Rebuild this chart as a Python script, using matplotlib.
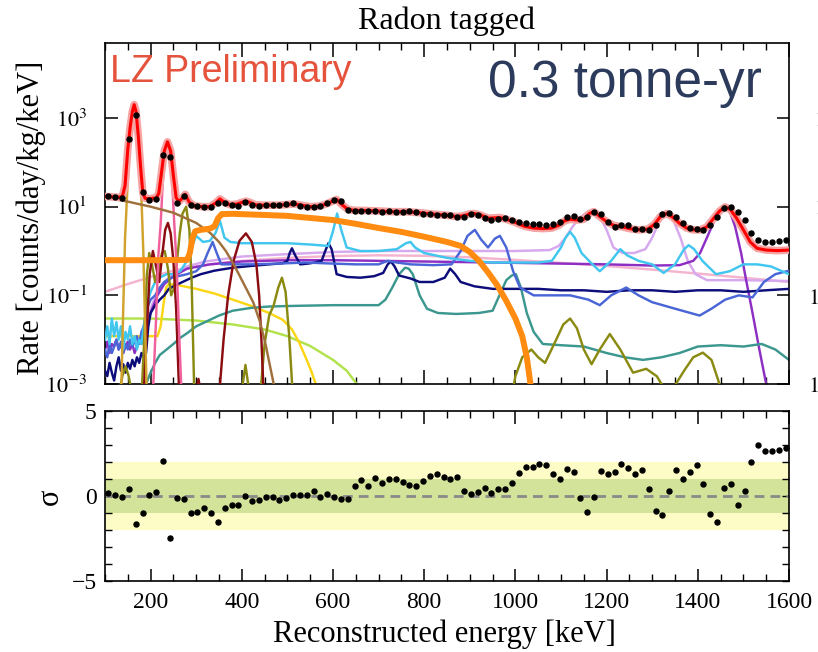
import numpy as np
import matplotlib
matplotlib.use('Agg')
import matplotlib.pyplot as plt
from matplotlib.ticker import FixedLocator, MultipleLocator, NullLocator, FixedFormatter

plt.rcParams['font.family'] = ['Liberation Serif', 'DejaVu Serif']
plt.rcParams['mathtext.fontset'] = 'stix'

# ---------------- data ----------------
bin_start = 107.5
bin_width = 15.0
n_bins = 100

data_rate = [17, 16.5, 16, 330, 1200, 21, 14.5, 15, 145, 130,
             12, 17, 10.8, 10.3, 9.9, 9.7, 12.2, 11.8, 10.8, 10.6,
             12.6, 11, 10.4, 10.8, 10.8, 10.8, 11.4, 11.8, 10.6, 9.9,
             9.9, 10.6, 12.2, 14.5, 13.5, 8.6, 8.1, 8.1, 8.1, 7.9,
             7.7, 7.8, 7.4, 7.6, 7.9, 7.7, 7.0, 6.8, 6.6, 6.6,
             6.5, 5.7, 5.9, 7.0, 6.6, 5.6, 5.0, 5.4, 5.6, 5.0,
             4.6, 4.2, 4.0, 4.0, 3.9, 4.0, 4.4, 6.0, 6.1, 5.2,
             6.0, 7.7, 6.8, 4.6, 3.4, 3.8, 3.8, 3.1, 3.1, 3.0,
             3.8, 6.8, 7.2, 5.9, 4.2, 3.3, 3.1, 3.0, 3.8, 5.9,
             9.5, 9.9, 7.7, 5.0, 2.5, 1.8, 1.6, 1.6, 1.7, 1.8]

residual_sigma = [0.15, 0.06, -0.04, 0.43, -1.63, -1.0, 0.06, 0.25, 2.04, -2.47,
                  -0.1, -0.18, -1.03, -0.92, -0.72, -1.01, -1.52, -0.72, -0.53, -0.53,
                  0.0, -0.33, -0.27, -0.04, -0.08, -0.23, -0.14, 0.04, 0.06, 0.04,
                  0.31, -0.04, 0.1, -0.04, -0.19, -0.19, 0.55, 0.94, 0.6, 1.03,
                  0.74, 0.97, 0.97, 0.84, 0.64, 0.6, 0.9, 1.17, 1.29, 1.09,
                  0.99, 1.13, 0.31, 0.1, 0.25, 0.45, 0.19, 0.39, 0.43, 0.78,
                  1.36, 1.68, 1.68, 1.85, 1.83, 1.27, 0.97, 1.56, 1.42, -0.1,
                  -0.97, -0.08, 1.46, 1.29, 1.42, 1.87, 1.66, 1.27, 1.52, 0.43,
                  -0.9, -1.11, 0.29, 1.52, 0.97, 1.42, 1.81, 0.68, -1.07, -1.52,
                  0.49, 0.68, -0.53, 0.31, 2.0, 2.98, 2.63, 2.63, 2.69, 2.83]

model_E = [100, 110, 120, 130, 138, 144, 150, 155, 160, 164, 168, 173, 178, 183, 188,
           195, 205, 212, 218, 224, 230, 237, 244, 250, 256, 262, 268, 276, 284, 292,
           300, 315, 330, 342, 352, 362, 375, 390, 400, 409, 418, 430, 450, 480, 500,
           515, 530, 550, 570, 585, 597, 608, 620, 632, 645, 670, 700, 730, 760, 790,
           820, 850, 870, 885, 900, 910, 925, 940, 955, 965, 980, 1000, 1020, 1040, 1060,
           1080, 1095, 1108, 1120, 1135, 1150, 1162, 1172, 1185, 1200, 1215, 1235, 1250, 1270, 1290,
           1305, 1318, 1332, 1345, 1360, 1375, 1390, 1405, 1420, 1435, 1448, 1460, 1472, 1485, 1500,
           1515, 1530, 1550, 1575, 1600]
model_V = [17, 16.8, 16.5, 16.3, 17, 30, 200, 600, 1400, 2000, 1400, 400, 80, 20, 15.5,
           15, 15.5, 15.5, 20, 60, 180, 290, 180, 50, 16, 13, 15, 19, 13, 11,
           10.3, 10, 10, 12, 15, 12.5, 11, 11.5, 12.5, 13.3, 12.5, 11, 10.8, 10.8, 11.2,
           11.5, 10.8, 10, 10.3, 11.5, 13, 14.5, 11, 8.8, 8.3, 8.2, 8, 7.7, 7.7, 7.3,
           6.8, 6.4, 6.0, 6.2, 6.9, 7.0, 6.4, 5.5, 5.6, 5.7, 5.2, 4.4, 3.6, 3.3, 3.2,
           3.3, 3.8, 4.8, 5.2, 5.0, 5.2, 7.0, 7.7, 6.0, 4.6, 3.8, 3.5, 3.2, 3.0, 3.1,
           4.0, 6.0, 7.0, 5.8, 4.2, 3.3, 3.0, 3.0, 3.5, 5.5, 8.0, 9.9, 8.5, 5.5, 3.0,
           1.6, 1.15, 1.05, 1.02, 1.05]

brown_E = [100, 150, 200, 250, 300, 330, 350, 365, 380, 395, 410, 425, 440, 452, 462, 470]
brown_V = [16, 13, 10, 7.3, 4.3, 2.6, 1.6, 1.0, 0.55, 0.28, 0.14, 0.07, 0.025, 0.008, 0.0025, 0.001]

orange_E = [100, 200, 280, 286, 292, 298, 310, 330, 340, 348,
            356, 380, 450, 500, 600, 650, 700, 750, 800, 850,
            880, 900, 920, 940, 960, 980, 1000, 1015, 1025, 1033]
orange_V = [0.62, 0.62, 0.63, 0.9, 2.0, 2.8, 3.0, 3.2, 3.6, 5.5,
            6.8, 6.9, 6.5, 6.2, 5.0, 4.1, 3.3, 2.7, 2.1, 1.6,
            1.3, 0.95, 0.6, 0.33, 0.17, 0.075, 0.03, 0.012, 0.004, 0.001]

goldenrod_E = [136, 140, 144, 148, 152, 156, 160, 164, 168, 172, 176, 180, 184, 188, 191]
goldenrod_V = [0.001, 0.05, 2, 15, 100, 500, 1300, 1900, 1300, 500, 100, 15, 1, 0.02, 0.001]

hotpink_E = [206, 212, 217, 222, 227, 232, 237, 242, 247, 252, 257, 262, 267]
hotpink_V = [0.001, 0.03, 0.8, 4, 40, 180, 280, 180, 40, 4, 0.5, 0.02, 0.001]

maroon_E = [186, 192, 198, 205, 212, 219, 226, 232, 238, 244, 250, 256, 263,
            298, 305, 312, 350, 360, 370, 382, 395, 409, 422, 432, 438, 443, 447]
maroon_V = [0.001, 0.02, 0.3, 1.0, 0.45, 0.2, 0.9, 3.0, 4.3, 2.5, 0.6, 0.05, 0.0005,
            0.0005, 0.0013, 0.0005, 0.0005, 0.01, 0.1, 0.6, 1.7, 2.5, 1.6, 0.5, 0.1, 0.01, 0.001]

olive_E = [130, 138, 145, 152, 160, 180, 186, 192, 197, 203,
           210, 218, 225, 231, 238, 245, 252, 258, 264, 270,
           278, 285, 290, 296, 398, 408, 418, 440, 450, 460,
           470, 480, 488, 496, 504, 512, 992, 1000, 1015, 1035,
           1050, 1065, 1085, 1105, 1120, 1135, 1150, 1167, 1185, 1207,
           1230, 1258, 1287, 1310, 1338, 1346, 1370, 1390, 1411, 1430,
           1445, 1455]
olive_V = [0.0005, 0.0015, 0.0025, 0.0015, 0.0005, 0.0005, 0.01, 0.3, 0.9, 0.5,
           0.2, 0.4, 0.9, 1.0, 0.4, 0.1, 0.15, 0.6, 2.5, 7,
           10, 3, 0.2, 0.0005, 0.0005, 0.0027, 0.0005, 0.0005, 0.008, 0.035,
           0.06, 0.15, 0.25, 0.12, 0.012, 0.0005, 0.0005, 0.0015, 0.004, 0.006,
           0.004, 0.003, 0.008, 0.022, 0.03, 0.018, 0.006, 0.0028, 0.006, 0.0134,
           0.006, 0.0018, 0.0022, 0.0015, 0.0005, 0.0008, 0.002, 0.004, 0.0051, 0.0035,
           0.0012, 0.0005]

cyan_E = [100, 105, 110, 115, 120, 125, 130, 135, 140, 145, 150, 155, 160, 165, 170, 175, 180, 185, 190, 195, 200,
          210, 220, 235, 250, 265, 280, 290, 300, 315, 330, 342, 352, 362, 375,
          400, 450, 500, 550, 590, 600, 609, 618, 630, 660,
          700, 740, 760, 770, 780, 800, 850, 900, 950, 1000,
          1050, 1080, 1100, 1110, 1120, 1130, 1145, 1165, 1185, 1210,
          1230, 1245, 1270, 1300, 1325, 1350, 1370, 1380, 1392, 1410,
          1440, 1470, 1500, 1530, 1560, 1600]
cyan_V = [0.01, 0.02, 0.008, 0.03, 0.012, 0.025, 0.01, 0.02, 0.006, 0.015, 0.01, 0.02, 0.008, 0.012, 0.006, 0.01, 0.008, 0.02, 0.04, 0.08, 0.12,
          0.2, 0.25, 0.3, 0.3, 0.35, 0.6, 1.2, 2.2, 1.6, 1.7, 2.5, 4.8, 2.0, 1.6,
          1.5, 1.5, 1.5, 1.4, 1.3, 2.8, 7.0, 3.0, 1.2, 1.0,
          1.0, 1.1, 1.5, 1.6, 1.2, 0.9, 0.7, 0.6, 0.55, 0.55,
          0.55, 0.6, 1.2, 2.0, 2.7, 2.0, 0.9, 0.55, 0.35, 0.6,
          1.1, 0.8, 0.6, 0.5, 0.32, 0.5, 1.1, 1.35, 1.1, 0.6,
          0.3, 0.35, 0.5, 0.5, 0.45, 0.3]

royal_E = [100, 105, 110, 115, 120, 125, 130, 135, 140, 145, 150, 155, 160, 165, 170, 175, 180, 185, 190, 195, 200,
           210, 220, 230, 245, 260, 280, 300, 315, 325, 336, 345, 355,
           380, 420, 480, 540, 600, 650, 700, 720, 740, 770, 820, 860,
           880, 895, 911, 925, 940, 955, 966, 980, 995, 1010,
           1040, 1080, 1120, 1160, 1185, 1210, 1243, 1270, 1300, 1350,
           1404, 1430, 1460, 1490, 1520, 1545, 1570, 1600]
royal_V = [0.006, 0.004, 0.008, 0.005, 0.007, 0.01, 0.006, 0.009, 0.005, 0.008, 0.006, 0.01, 0.007, 0.009, 0.012, 0.008, 0.015, 0.02, 0.04, 0.06, 0.08,
           0.1, 0.15, 0.2, 0.25, 0.27, 0.3, 0.35, 0.5, 0.9, 1.6, 0.9, 0.5,
           0.5, 0.5, 0.52, 0.55, 0.52, 0.5, 0.5, 0.6, 0.55, 0.5, 0.48, 0.5,
           1.0, 2.2, 3.0, 1.8, 1.2, 1.9, 2.2, 1.2, 0.35, 0.15,
           0.1, 0.1, 0.1, 0.08, 0.06, 0.1, 0.15, 0.1, 0.07, 0.05,
           0.035, 0.05, 0.08, 0.1, 0.09, 0.2, 0.3, 0.36]

navy_E = [100, 105, 110, 115, 120, 125, 130, 135, 140, 145, 150, 155, 160, 165, 170, 175, 180, 185, 190, 195, 200,
          210, 220, 230, 240, 255, 270, 290, 310, 340, 380, 420, 460, 490,
          500, 505, 510, 517, 528, 545, 560, 575, 583, 590, 597, 608,
          630, 660, 690, 710, 720, 727, 735, 745, 770, 790, 820, 845, 857, 868, 880,
          910, 950, 1000, 1050, 1100, 1150, 1200, 1250, 1300, 1350, 1400, 1450, 1500, 1550, 1600]
navy_V = [0.002, 0.0015, 0.003, 0.0018, 0.0012, 0.0025, 0.004, 0.002, 0.0028, 0.0018, 0.003, 0.0022, 0.0035, 0.0025, 0.004, 0.003, 0.005, 0.004, 0.005, 0.02, 0.04,
          0.06, 0.08, 0.1, 0.14, 0.17, 0.2, 0.25, 0.3, 0.36, 0.42, 0.46, 0.5, 0.53,
          0.6, 0.9, 1.15, 0.8, 0.5, 0.52, 0.55, 0.6, 1.0, 1.5, 1.1, 0.3,
          0.26, 0.25, 0.27, 0.32, 0.5, 0.58, 0.45, 0.28, 0.24, 0.2, 0.2, 0.25, 0.4, 0.3, 0.2,
          0.16, 0.14, 0.14, 0.14, 0.13, 0.13, 0.12, 0.13, 0.13, 0.12, 0.13, 0.13, 0.12, 0.13, 0.14]

purple_E = [100, 105, 110, 115, 120, 125, 130, 135, 140, 145, 150, 155, 160, 165, 170, 175, 180, 185, 190,
            200, 215, 230, 250, 280, 330, 400, 500, 600, 700,
            800, 900, 1000, 1100, 1200, 1300, 1360, 1390, 1405, 1420,
            1435, 1448, 1459, 1470, 1482, 1495, 1506, 1520, 1535, 1550]
purple_V = [0.006, 0.009, 0.005, 0.008, 0.007, 0.01, 0.006, 0.008, 0.005, 0.007, 0.009, 0.006, 0.008, 0.005, 0.007, 0.01, 0.008, 0.012, 0.02,
            0.04, 0.1, 0.18, 0.27, 0.4, 0.5, 0.58, 0.62, 0.62, 0.6,
            0.58, 0.56, 0.54, 0.52, 0.5, 0.47, 0.48, 0.6, 0.9, 2.0,
            4.5, 8.0, 10.0, 8.0, 3.5, 0.9, 0.22, 0.04, 0.006, 0.001]

lavender_E = [190, 200, 215, 230, 250, 280, 320, 400, 500, 600,
              700, 800, 900, 1000, 1075, 1095, 1110, 1125, 1140, 1155,
              1170, 1185, 1200, 1215, 1235, 1260, 1285, 1300, 1315, 1332,
              1348, 1362, 1378, 1395, 1420, 1500, 1600]
lavender_V = [0.02, 0.05, 0.12, 0.2, 0.32, 0.45, 0.58, 0.75, 0.85, 0.95,
              1.0, 1.0, 1.0, 1.0, 1.05, 1.3, 2.0, 3.5, 5.5, 7.2,
              7.8, 6.0, 3.0, 1.2, 0.9, 0.9, 1.1, 2.0, 4.5, 7.0,
              4.5, 2.0, 0.6, 0.3, 0.22, 0.22, 0.21]

lightpink_E = [100, 150, 200, 250, 300, 350, 400, 500, 600, 700, 800, 900, 1000, 1100, 1200, 1300, 1400, 1500, 1600]
lightpink_V = [0.12, 0.18, 0.26, 0.36, 0.45, 0.53, 0.6, 0.7, 0.77, 0.8, 0.78, 0.72, 0.63, 0.54, 0.46, 0.38, 0.31, 0.25, 0.2]

teal_E = [190, 200, 210, 220, 235, 250, 265, 280, 300, 320,
          350, 380, 420, 460, 520, 600, 650, 700, 715, 730,
          745, 758, 766, 775, 790, 806, 830, 870, 920, 950,
          965, 980, 992, 1001, 1012, 1025, 1040, 1060, 1100, 1150,
          1200, 1240, 1280, 1320, 1360, 1400, 1450, 1500, 1540, 1570,
          1600]
teal_V = [0.001, 0.0018, 0.003, 0.0045, 0.006, 0.008, 0.011, 0.014, 0.02, 0.025,
          0.035, 0.045, 0.052, 0.056, 0.058, 0.06, 0.06, 0.06, 0.08, 0.15,
          0.3, 0.42, 0.4, 0.3, 0.1, 0.05, 0.04, 0.038, 0.04, 0.045,
          0.1, 0.22, 0.28, 0.3, 0.15, 0.04, 0.015, 0.008, 0.0075, 0.007,
          0.005, 0.004, 0.0035, 0.004, 0.005, 0.007, 0.0075, 0.007, 0.008, 0.006,
          0.0035]

yellow_E = [100, 150, 200, 215, 222, 228, 234, 240, 260, 300, 340, 380, 420, 460, 490, 510, 525, 540, 552, 562]
yellow_V = [0.012, 0.012, 0.012, 0.012, 0.02, 0.06, 0.15, 0.18, 0.17, 0.14, 0.11, 0.08, 0.058, 0.04, 0.028, 0.017, 0.009, 0.004, 0.002, 0.001]

ygreen_E = [100, 200, 300, 380, 450, 500, 550, 600, 630, 652]
ygreen_V = [0.03, 0.03, 0.027, 0.022, 0.017, 0.012, 0.0072, 0.0035, 0.002, 0.001]

# ---------------- figure ----------------
W, H = 818, 652
fig = plt.figure(figsize=(W / 100, H / 100), dpi=100)

def fx(x):
    return x / W

def fy(y):
    return 1 - y / H

ax1 = fig.add_axes([fx(105), fy(384), fx(789) - fx(105), fy(42.7) - fy(384)])
ax2 = fig.add_axes([fx(105), fy(581), fx(789) - fx(105), fy(410.7) - fy(581)])

bins = bin_start + bin_width * np.arange(n_bins)

lw = 1.75
components = [
    (lightpink_E, lightpink_V, '#f4b4cf', lw),
    (lavender_E, lavender_V, '#d6a8ee', lw),
    (purple_E, purple_V, '#8e2fc4', lw),
    (ygreen_E, ygreen_V, '#b2e24c', lw),
    (yellow_E, yellow_V, '#fad614', lw),
    (teal_E, teal_V, '#3c978f', lw),
    (navy_E, navy_V, '#0c0c7a', lw),
    (royal_E, royal_V, '#4a66d6', lw),
    (cyan_E, cyan_V, '#40c6ef', lw),
    (olive_E, olive_V, '#8a8a12', lw),
    (maroon_E, maroon_V, '#8b0d12', lw),
    (hotpink_E, hotpink_V, '#f0609a', lw),
    (goldenrod_E, goldenrod_V, '#d1a22c', lw),
    (brown_E, brown_V, '#a0703c', lw),
    (orange_E, orange_V, '#ff8c10', 4.3),
]
for i, (e, v, c, w) in enumerate(components):
    ax1.plot(e, v, color=c, lw=w, zorder=2 + i * 0.1, solid_joinstyle='round')

ax1.plot(model_E, model_V, color='#f5a3a3', lw=5.5, zorder=5, solid_capstyle='butt')
ax1.plot(model_E, model_V, color='#ff0000', lw=2.2, zorder=6)
ax1.plot(bins, data_rate, 'o', color='black', ms=3.6, zorder=7)

ax1.set_yscale('log')
ax1.set_xlim(100, 1600)
ax1.set_ylim(1e-3, 5e4)
ax1.yaxis.set_major_locator(FixedLocator([1e-3, 1e-1, 1e1, 1e3]))
ax1.yaxis.set_major_formatter(FixedFormatter(['$10^{-3}$', '$10^{-1}$', '$10^{1}$', '$10^{3}$']))
ax1.yaxis.set_minor_locator(NullLocator())
ax1.xaxis.set_major_locator(MultipleLocator(200))
ax1.xaxis.set_minor_locator(MultipleLocator(50))
ax1.tick_params(axis='both', which='both', direction='in', top=True, right=True,
                labelbottom=False)
ax1.tick_params(axis='x', which='major', length=10, width=1.1)
ax1.tick_params(axis='x', which='minor', length=5, width=1.0)
ax1.tick_params(axis='y', which='major', length=9, width=1.1, pad=13, labelsize=16)

# residual panel
ax2.axhspan(-2, 2, color='#fefcc6', zorder=0, lw=0)
ax2.axhspan(-1, 1, color='#d3e49a', zorder=1, lw=0)
ax2.axhline(0, color='#8a8a8a', lw=2.0, ls=(0, (3.5, 2.2)), zorder=2)
ax2.plot(bins, residual_sigma, 'o', color='black', ms=3.6, zorder=3)
ax2.set_xlim(100, 1600)
ax2.set_ylim(-5, 5)
ax2.yaxis.set_major_locator(FixedLocator([-5, 0, 5]))
ax2.yaxis.set_major_formatter(FixedFormatter(['\u22125', '0', '5']))
ax2.yaxis.set_minor_locator(MultipleLocator(1))
ax2.xaxis.set_major_locator(MultipleLocator(200))
ax2.xaxis.set_minor_locator(MultipleLocator(50))
ax2.tick_params(axis='both', which='both', direction='in', top=True, right=True, labelsize=17)
ax2.tick_params(axis='x', which='major', length=9, width=1.1, pad=8)
ax2.tick_params(axis='x', which='minor', length=5, width=1.0)
ax2.tick_params(axis='y', which='both', length=5, width=1.0, pad=6)

for ax in (ax1, ax2):
    for s in ax.spines.values():
        s.set_linewidth(1.2)

# texts
fig.text(fx(446), fy(21), 'Radon tagged', ha='center', va='center', fontsize=23)
fig.text(fx(444), fy(634), 'Reconstructed energy [keV]', ha='center', va='center', fontsize=22)
fig.text(fx(31), fy(218), 'Rate [counts/day/kg/keV]', ha='center', va='center',
         rotation=90, fontsize=22)
fig.text(fx(50), fy(497), '\u03c3', ha='center', va='center', rotation=90, fontsize=22)
fig.text(fx(110), fy(82), 'LZ Preliminary', ha='left', va='baseline', fontsize=27,
         color='#e5533d', family=['Liberation Sans', 'DejaVu Sans'])
fig.text(fx(488), fy(97), '0.3 tonne-yr', ha='left', va='baseline', fontsize=37,
         color='#2c3a5c', family=['Liberation Sans', 'DejaVu Sans'])

# cut-off labels of the neighbouring panel at the right edge
for txt, x, y in [('$10^{3}$', 814, 121), ('$10^{1}$', 814, 209),
                  ('$10^{-1}$', 808, 299), ('$10^{-3}$', 808, 387)]:
    fig.text(fx(x), fy(y), txt, ha='left', va='center', fontsize=16)

fig.savefig('out.png', dpi=100)
